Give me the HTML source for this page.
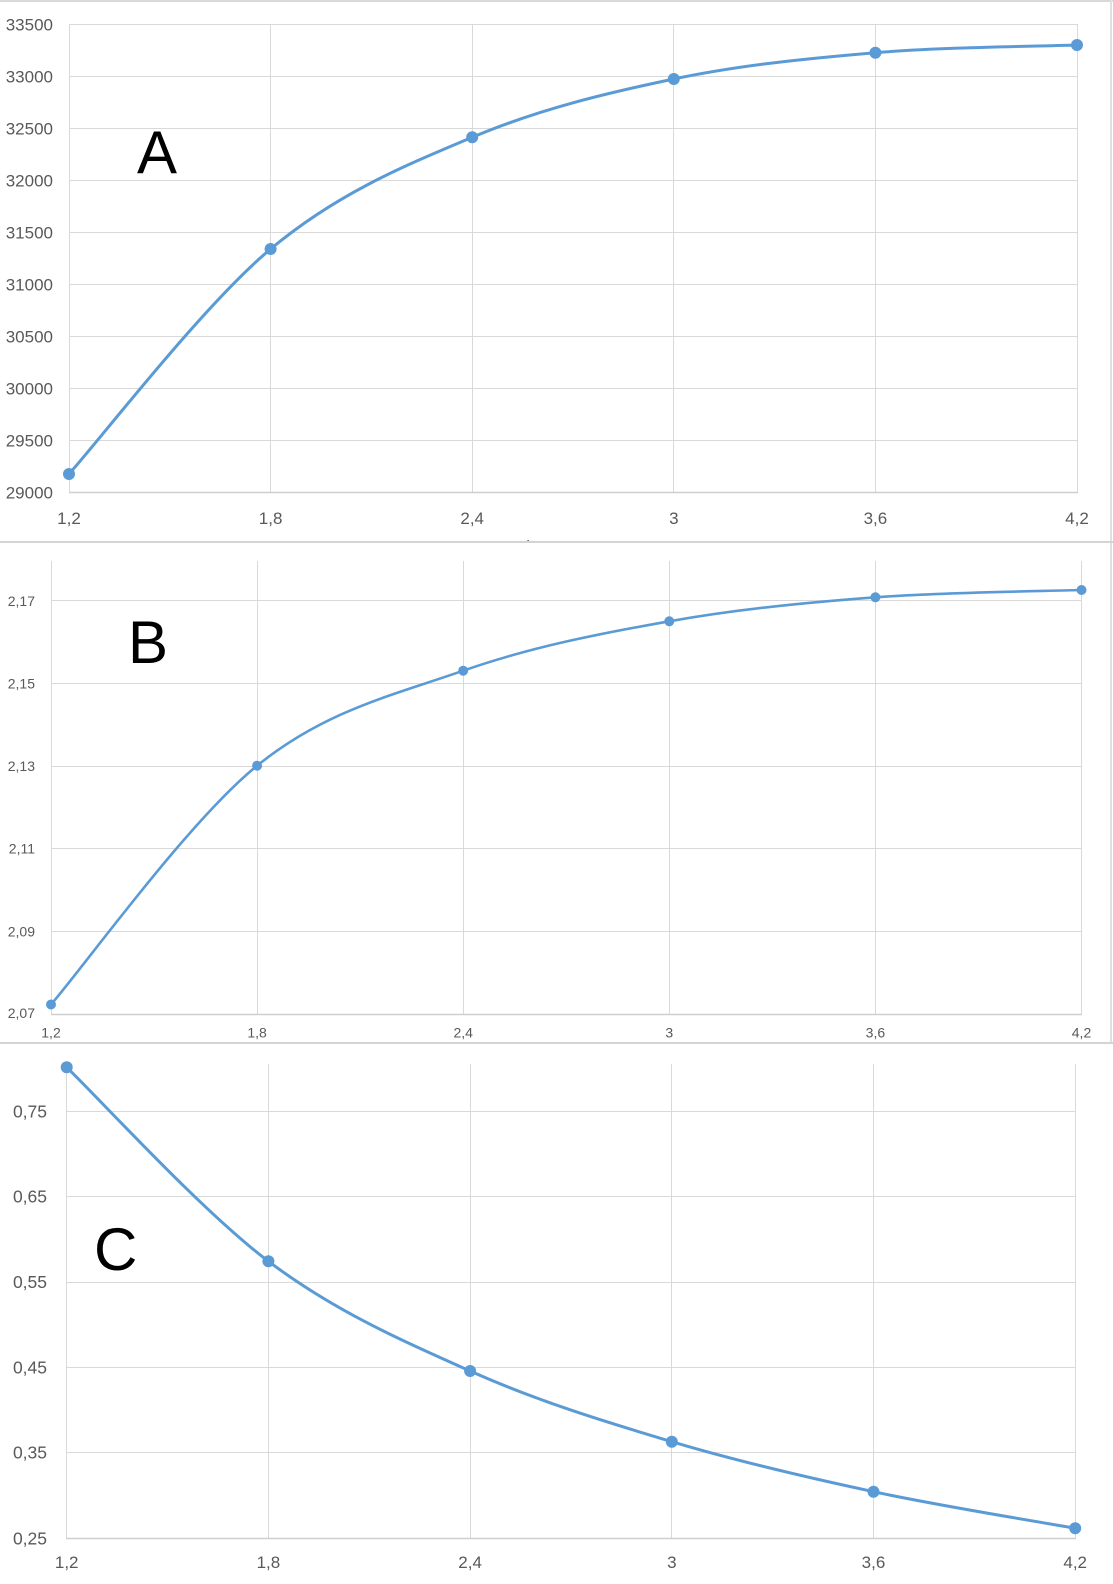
<!DOCTYPE html>
<html>
<head>
<meta charset="utf-8">
<style>
html,body{margin:0;padding:0;background:#fff;}
body{width:1113px;height:1584px;overflow:hidden;}
svg{display:block;}
.t{font-family:"Liberation Sans","Noto Sans CJK SC",sans-serif;fill:#595959;}
.big{font-family:"Liberation Sans",sans-serif;fill:#000;font-size:60px;}
</style>
</head>
<body>
<svg width="1113" height="1584" viewBox="0 0 1113 1584" xmlns="http://www.w3.org/2000/svg">
<defs>
<clipPath id="clipA"><rect x="0" y="0" width="1113" height="541"/></clipPath>
<clipPath id="clipC"><rect x="0" y="1044" width="1113" height="540"/></clipPath>
</defs>
<rect x="0" y="0" width="1113" height="1584" fill="#fff"/>

<!-- borders / separators -->
<rect x="0" y="0" width="1113" height="2" fill="#d9d9d9"/>
<rect x="1110" y="0" width="2" height="1043" fill="#e0e0e0"/>
<rect x="0" y="541" width="1113" height="2" fill="#d4d4d4"/>
<rect x="0" y="1042" width="1113" height="2" fill="#d4d4d4"/>

<!-- ================= PANEL A ================= -->
<g stroke="#d9d9d9" stroke-width="1" fill="none">
  <line x1="69" y1="24.5" x2="1077" y2="24.5"/>
  <line x1="69" y1="76.5" x2="1077" y2="76.5"/>
  <line x1="69" y1="128.5" x2="1077" y2="128.5"/>
  <line x1="69" y1="180.5" x2="1077" y2="180.5"/>
  <line x1="69" y1="232.5" x2="1077" y2="232.5"/>
  <line x1="69" y1="284.5" x2="1077" y2="284.5"/>
  <line x1="69" y1="336.5" x2="1077" y2="336.5"/>
  <line x1="69" y1="388.5" x2="1077" y2="388.5"/>
  <line x1="69" y1="440.5" x2="1077" y2="440.5"/>
  <line x1="69.5" y1="24" x2="69.5" y2="492"/>
  <line x1="270.5" y1="24" x2="270.5" y2="492"/>
  <line x1="472.5" y1="24" x2="472.5" y2="492"/>
  <line x1="673.5" y1="24" x2="673.5" y2="492"/>
  <line x1="875.5" y1="24" x2="875.5" y2="492"/>
  <line x1="1077.5" y1="24" x2="1077.5" y2="492"/>
</g>
<line x1="69" y1="492.5" x2="1078" y2="492.5" stroke="#cfcfcf" stroke-width="1.5"/>

<g class="t" font-size="17" text-anchor="end">
  <text x="53" y="30.5">33500</text>
  <text x="53" y="82.5">33000</text>
  <text x="53" y="134.5">32500</text>
  <text x="53" y="186.5">32000</text>
  <text x="53" y="238.5">31500</text>
  <text x="53" y="290.5">31000</text>
  <text x="53" y="342.5">30500</text>
  <text x="53" y="394.5">30000</text>
  <text x="53" y="446.5">29500</text>
  <text x="53" y="498.5">29000</text>
</g>
<g class="t" font-size="17" text-anchor="middle">
  <text x="69" y="524">1,2</text>
  <text x="270.6" y="524">1,8</text>
  <text x="472.2" y="524">2,4</text>
  <text x="673.8" y="524">3</text>
  <text x="875.4" y="524">3,6</text>
  <text x="1077" y="524">4,2</text>
</g>
<g clip-path="url(#clipA)">
  <text class="t" font-size="17" x="573" y="553" text-anchor="middle">Chiều dày PVT (m)</text>
</g>

<path d="M69,474 C102.6,436.5 203.4,305.1 270.6,249 C337.8,192.9 405,165.6 472.2,137.3 C539.4,109 606.6,93.1 673.8,79 C741,64.9 808.2,58.4 875.4,52.7 C942.6,47 1043.4,46.3 1077,45"
      fill="none" stroke="#5b9bd5" stroke-width="3" stroke-linecap="round" stroke-linejoin="round"/>
<g fill="#5b9bd5">
  <circle cx="69" cy="474" r="6"/>
  <circle cx="270.6" cy="249" r="6"/>
  <circle cx="472.2" cy="137.3" r="6"/>
  <circle cx="673.8" cy="79" r="6"/>
  <circle cx="875.4" cy="52.7" r="6"/>
  <circle cx="1077" cy="45" r="6"/>
</g>
<text class="big" x="137" y="173">A</text>

<!-- ================= PANEL B ================= -->
<g stroke="#d9d9d9" stroke-width="1" fill="none">
  <line x1="51" y1="600.5" x2="1081.5" y2="600.5"/>
  <line x1="51" y1="683.5" x2="1081.5" y2="683.5"/>
  <line x1="51" y1="766.5" x2="1081.5" y2="766.5"/>
  <line x1="51" y1="848.5" x2="1081.5" y2="848.5"/>
  <line x1="51" y1="931.5" x2="1081.5" y2="931.5"/>
  <line x1="51.5" y1="561" x2="51.5" y2="1014"/>
  <line x1="257.5" y1="561" x2="257.5" y2="1014"/>
  <line x1="463.5" y1="561" x2="463.5" y2="1014"/>
  <line x1="669.5" y1="561" x2="669.5" y2="1014"/>
  <line x1="875.5" y1="561" x2="875.5" y2="1014"/>
  <line x1="1081.5" y1="561" x2="1081.5" y2="1014"/>
</g>
<line x1="51" y1="1014.5" x2="1082" y2="1014.5" stroke="#cfcfcf" stroke-width="1.5"/>

<g class="t" font-size="14" text-anchor="end">
  <text x="35" y="606">2,17</text>
  <text x="35" y="688.5">2,15</text>
  <text x="35" y="771">2,13</text>
  <text x="35" y="853.5">2,11</text>
  <text x="35" y="936.5">2,09</text>
  <text x="35" y="1018">2,07</text>
</g>
<g class="t" font-size="14" text-anchor="middle">
  <text x="51" y="1037.5">1,2</text>
  <text x="257.1" y="1037.5">1,8</text>
  <text x="463.2" y="1037.5">2,4</text>
  <text x="669.3" y="1037.5">3</text>
  <text x="875.4" y="1037.5">3,6</text>
  <text x="1081.5" y="1037.5">4,2</text>
</g>

<path d="M51,1004.5 C85.35,964.7 188.4,821.3 257.1,765.7 C325.8,710.1 394.5,694.8 463.2,670.7 C531.9,646.6 600.6,633.5 669.3,621.3 C738,609.1 806.7,602.5 875.4,597.3 C944.1,592.1 1047.15,591.2 1081.5,590"
      fill="none" stroke="#5b9bd5" stroke-width="2.6" stroke-linecap="round" stroke-linejoin="round"/>
<g fill="#5b9bd5">
  <circle cx="51" cy="1004.5" r="5"/>
  <circle cx="257.1" cy="765.7" r="5"/>
  <circle cx="463.2" cy="670.7" r="5"/>
  <circle cx="669.3" cy="621.3" r="5"/>
  <circle cx="875.4" cy="597.3" r="5"/>
  <circle cx="1081.5" cy="590" r="5"/>
</g>
<text class="big" x="128" y="663">B</text>

<!-- ================= PANEL C ================= -->
<g stroke="#d9d9d9" stroke-width="1" fill="none">
  <line x1="66.7" y1="1111.5" x2="1075.2" y2="1111.5"/>
  <line x1="66.7" y1="1196.5" x2="1075.2" y2="1196.5"/>
  <line x1="66.7" y1="1282.5" x2="1075.2" y2="1282.5"/>
  <line x1="66.7" y1="1367.5" x2="1075.2" y2="1367.5"/>
  <line x1="66.7" y1="1452.5" x2="1075.2" y2="1452.5"/>
  <line x1="66.5" y1="1064" x2="66.5" y2="1538"/>
  <line x1="268.5" y1="1064" x2="268.5" y2="1538"/>
  <line x1="470.5" y1="1064" x2="470.5" y2="1538"/>
  <line x1="671.5" y1="1064" x2="671.5" y2="1538"/>
  <line x1="873.5" y1="1064" x2="873.5" y2="1538"/>
  <line x1="1075.5" y1="1064" x2="1075.5" y2="1538"/>
</g>
<line x1="66" y1="1538.5" x2="1076" y2="1538.5" stroke="#cfcfcf" stroke-width="1.5"/>

<g class="t" font-size="17.5" text-anchor="end">
  <text x="47" y="1117.5">0,75</text>
  <text x="47" y="1202.5">0,65</text>
  <text x="47" y="1288">0,55</text>
  <text x="47" y="1373.5">0,45</text>
  <text x="47" y="1458.5">0,35</text>
  <text x="47" y="1544.5">0,25</text>
</g>
<g class="t" font-size="17" text-anchor="middle">
  <text x="66.7" y="1568">1,2</text>
  <text x="268.4" y="1568">1,8</text>
  <text x="470.1" y="1568">2,4</text>
  <text x="671.8" y="1568">3</text>
  <text x="873.5" y="1568">3,6</text>
  <text x="1075.2" y="1568">4,2</text>
</g>
<g clip-path="url(#clipC)">
  <text class="t" font-size="17" x="573" y="1601" text-anchor="middle">Chiều dày PVT (m)</text>
</g>

<path d="M66.7,1067.3 C100.3,1099.6 201.2,1210.7 268.4,1261.3 C335.6,1311.9 402.9,1340.9 470.1,1371 C537.3,1401.1 604.6,1421.6 671.8,1441.7 C739,1461.8 806.3,1477.3 873.5,1491.7 C940.7,1506.1 1041.6,1522.2 1075.2,1528.3"
      fill="none" stroke="#5b9bd5" stroke-width="3" stroke-linecap="round" stroke-linejoin="round"/>
<g fill="#5b9bd5">
  <circle cx="66.7" cy="1067.3" r="6"/>
  <circle cx="268.4" cy="1261.3" r="6"/>
  <circle cx="470.1" cy="1371" r="6"/>
  <circle cx="671.8" cy="1441.7" r="6"/>
  <circle cx="873.5" cy="1491.7" r="6"/>
  <circle cx="1075.2" cy="1528.3" r="6"/>
</g>
<text class="big" x="94" y="1270">C</text>
</svg>
</body>
</html>
